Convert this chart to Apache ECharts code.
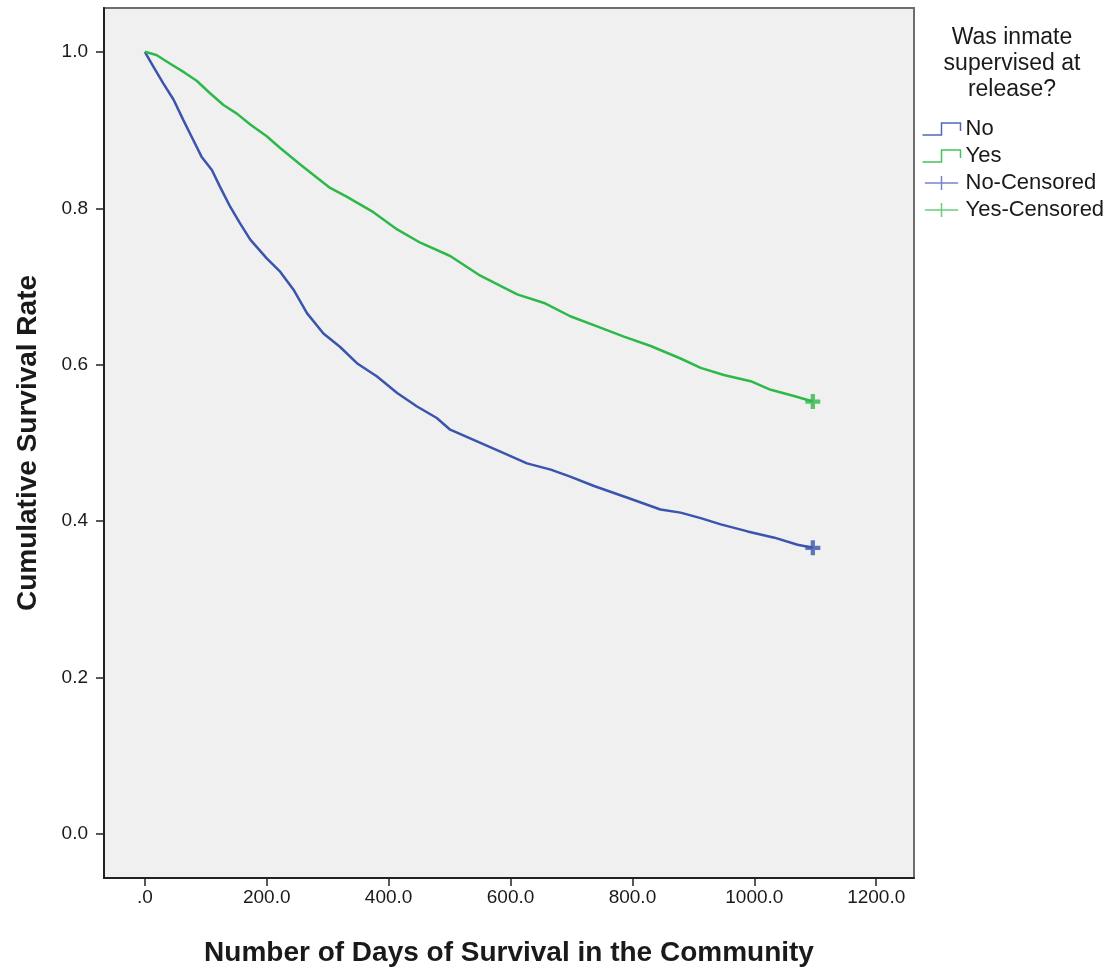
<!DOCTYPE html>
<html>
<head>
<meta charset="utf-8">
<script src="https://cdn.jsdelivr.net/npm/echarts@6/dist/echarts.min.js"></script>
<style>
html,body{margin:0;padding:0;background:#ffffff;}
#chart{width:1110px;height:972px;}
</style>
</head>
<body>
<div id="chart"></div>
<script>
// Days (x) and cumulative survival (y)
var daysNo = [0,14,30,47,63,79,93,110,123,140,156,173,200,222,244,266,293,320,348,381,414,446,479,501,545,589,627,666,698,737,792,846,879,912,945,989,1033,1071,1096];
var survNo = [1.0,0.981,0.960,0.939,0.913,0.888,0.866,0.849,0.828,0.802,0.781,0.760,0.736,0.719,0.696,0.666,0.640,0.623,0.602,0.585,0.564,0.547,0.532,0.517,0.502,0.487,0.474,0.466,0.457,0.445,0.430,0.415,0.411,0.404,0.396,0.387,0.379,0.370,0.366];
var daysYes = [0,19,41,66,85,107,129,151,173,200,222,255,304,331,375,414,452,501,548,611,655,698,742,786,830,879,912,950,994,1027,1065,1096];
var survYes = [1.0,0.996,0.985,0.973,0.963,0.947,0.932,0.921,0.907,0.892,0.877,0.856,0.826,0.815,0.795,0.773,0.756,0.739,0.715,0.690,0.679,0.662,0.649,0.636,0.624,0.608,0.596,0.587,0.579,0.568,0.560,0.553];
var censNoDays = [1096];
var censNoSurv = [0.366];
var censYesDays = [1096];
var censYesSurv = [0.553];
var xTicks = [0,200,400,600,800,1000,1200];
var yTicks = [0,0.2,0.4,0.6,0.8,1.0];
var seriesNames = ['No','Yes','No-Censored','Yes-Censored'];
var legendTitle = 'Was inmate\nsupervised at\nrelease?';
var xTitle = 'Number of Days of Survival in the Community';
var yTitle = 'Cumulative Survival Rate';

function zip(a,b){ return a.map(function(v,i){ return [v,b[i]]; }); }

var BLUE = '#3b54ad';
var GREEN = '#2fb84a';
var FONT = 'Liberation Sans, Arial, sans-serif';
var plusFilled = 'path://M5,0L9,0L9,5L14,5L14,9L9,9L9,14L5,14L5,9L0,9L0,5L5,5Z';
var stepIcon = 'path://M0,12L19,12L19,0L38,0L38,8';
var crossIcon = 'path://M0,8L38,8M19,0L19,16';

var chart = echarts.init(document.getElementById('chart'), null, {renderer:'canvas'});
chart.setOption({
  animation: false,
  backgroundColor: '#ffffff',
  title: {
    text: legendTitle,
    left: 1012,
    top: 25,
    padding: 0,
    textAlign: 'center',
    textStyle: {fontFamily: FONT, fontSize: 23, fontWeight: 'normal', color: '#1a1a1a', lineHeight: 26}
  },
  legend: {
    orient: 'vertical',
    left: 920,
    top: 118,
    padding: 0,
    itemWidth: 38,
    itemHeight: 14,
    itemGap: 5,
    textStyle: {fontFamily: FONT, fontSize: 22, color: '#1a1a1a'},
    data: [
      {name: seriesNames[0], icon: stepIcon, itemStyle: {color: 'none', borderColor: '#5068bb', borderWidth: 1.5}},
      {name: seriesNames[1], icon: stepIcon, itemStyle: {color: 'none', borderColor: '#45c25c', borderWidth: 1.5}},
      {name: seriesNames[2], icon: crossIcon, itemStyle: {color: 'none', borderColor: '#5068bb', borderWidth: 1.5}},
      {name: seriesNames[3], icon: crossIcon, itemStyle: {color: 'none', borderColor: '#45c25c', borderWidth: 1.5}}
    ]
  },
  grid: {
    left: 104, right: 196, top: 8, bottom: 93,
    show: true, backgroundColor: '#f0f0f0', borderColor: '#6e6e6e', borderWidth: 2
  },
  xAxis: {
    type: 'value',
    min: -67, max: 1262,
    name: xTitle,
    nameLocation: 'middle',
    nameGap: 61,
    nameTextStyle: {fontFamily: FONT, fontSize: 28, fontWeight: 'bold', color: '#1a1a1a'},
    axisLine: {show: true, onZero: false, lineStyle: {color: '#222', width: 2}},
    axisTick: {show: true, length: 8, customValues: xTicks, lineStyle: {color: '#222', width: 1.5}},
    axisLabel: {
      customValues: xTicks, margin: 10,
      fontFamily: FONT, fontSize: 19, color: '#1a1a1a',
      formatter: function(v){ return v === 0 ? '.0' : v.toFixed(1); }
    },
    splitLine: {show: false}
  },
  yAxis: {
    type: 'value',
    min: -0.056, max: 1.056,
    name: yTitle,
    nameLocation: 'middle',
    nameGap: 62,
    nameRotate: 90,
    nameTextStyle: {fontFamily: FONT, fontSize: 28, fontWeight: 'bold', color: '#1a1a1a'},
    axisLine: {show: true, onZero: false, lineStyle: {color: '#222', width: 2}},
    axisTick: {show: true, length: 8, customValues: yTicks, lineStyle: {color: '#222', width: 1.5}},
    axisLabel: {
      customValues: yTicks, margin: 16,
      fontFamily: FONT, fontSize: 19, color: '#1a1a1a',
      formatter: function(v){ return v.toFixed(1); }
    },
    splitLine: {show: false}
  },
  series: [
    {name: seriesNames[0], type: 'line', data: zip(daysNo, survNo), showSymbol: false, symbol: 'none',
     lineStyle: {color: BLUE, width: 2.5}, itemStyle: {color: BLUE}, z: 3},
    {name: seriesNames[1], type: 'line', data: zip(daysYes, survYes), showSymbol: false, symbol: 'none',
     lineStyle: {color: GREEN, width: 2.5}, itemStyle: {color: GREEN}, z: 3},
    {name: seriesNames[2], type: 'scatter', data: zip(censNoDays, censNoSurv), symbol: plusFilled, symbolSize: 15,
     itemStyle: {color: BLUE}, z: 4},
    {name: seriesNames[3], type: 'scatter', data: zip(censYesDays, censYesSurv), symbol: plusFilled, symbolSize: 15,
     itemStyle: {color: GREEN}, z: 4}
  ]
});
</script>
</body>
</html>
